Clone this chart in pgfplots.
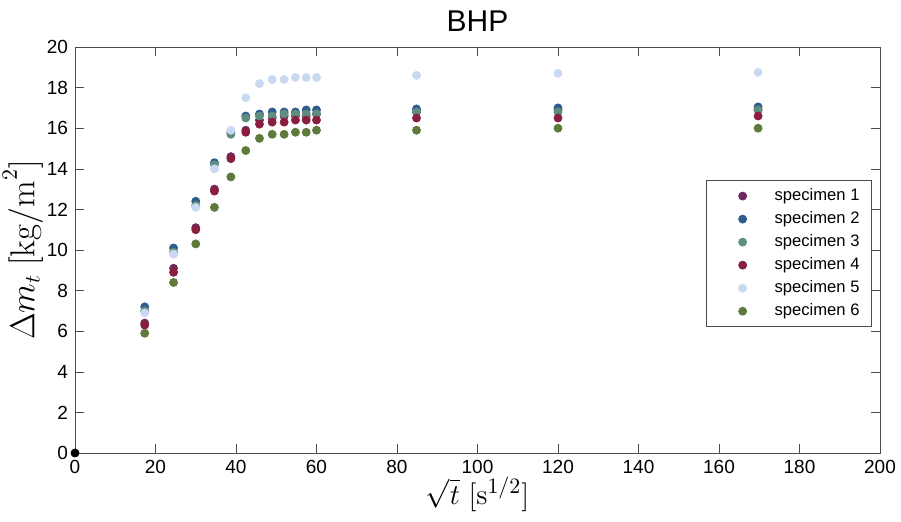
\documentclass[border=0pt]{standalone}
\usepackage{pgfplots}
\usepackage{pgfplotstable}
\pgfplotsset{compat=1.18}
\usepackage[no-math]{fontspec}
\setmainfont{Liberation Sans}
\definecolor{sone}{HTML}{6E2A5E}
\definecolor{stwo}{HTML}{2E5D8C}
\definecolor{sthree}{HTML}{5E8E80}
\definecolor{sfour}{HTML}{8A1E3E}
\definecolor{sfive}{HTML}{C9D9F2}
\definecolor{ssix}{HTML}{5E7A3A}

\pgfplotstableread{
t      s1    s2    s3    s4    s5    s6
17.32  6.4   7.2   7.0   6.3   6.9   5.9
24.49  9.1   10.1  9.9   8.9   9.8   8.4
30.00  11.1  12.4  12.2  11.0  12.1  10.3
34.64  13.0  14.3  14.2  12.9  14.0  12.1
38.73  14.6  15.8  15.7  14.5  15.9  13.6
42.43  15.9  16.6  16.5  15.8  17.5  14.9
45.83  16.4  16.7  16.6  16.2  18.2  15.5
48.99  16.5  16.8  16.6  16.3  18.4  15.7
51.96  16.6  16.8  16.7  16.3  18.4  15.7
54.77  16.6  16.8  16.7  16.4  18.5  15.8
57.45  16.6  16.9  16.7  16.4  18.5  15.8
60.00  16.7  16.9  16.7  16.4  18.5  15.9
84.85  16.8  16.95 16.8  16.5  18.6  15.9
120.00 16.9  17.0  16.8  16.5  18.7  16.0
169.71 16.9  17.05 16.9  16.6  18.75 16.0
}\massdata

\begin{document}
\begin{tikzpicture}
\path[use as bounding box] (-37.5pt,-34pt) rectangle (413pt,226.5pt);
\begin{axis}[
  scale only axis,
  width=402.5pt,height=203pt,
  xmin=0,xmax=200,ymin=0,ymax=20,
  xtick={0,20,...,200},ytick={0,2,...,20},
  tick align=inside,
  ticklabel style={font=\fontsize{9.5}{11}\selectfont},
  /pgf/number format/assume math mode=true,
  axis line style={black!70},
  tick style={black!70},
  title={BHP},
  title style={font=\fontsize{15}{18}\selectfont,yshift=-2pt},
  xlabel={$\sqrt{t}\ [\mathrm{s}^{1/2}]$},
  ylabel={$\Delta m_t\ [\mathrm{kg/m}^2]$},
  xlabel style={font=\fontsize{15.5}{18}\selectfont,yshift=5pt},
  ylabel style={font=\fontsize{16}{19}\selectfont,yshift=-5pt},
  legend style={at={(0.99,0.672)},anchor=north east,
    font=\fontsize{8.3}{10}\selectfont,draw=black!70,
    row sep=0pt,inner xsep=4pt},
  legend cell align=left,
  legend image code/.code={\path[draw=none] (0pt,0pt) -- (28pt,0pt);
    \draw[#1,only marks] plot coordinates {(14pt,0pt)};},
  every axis plot/.append style={only marks,mark=*,mark size=2pt},
]
\addplot[color=sone] table[x=t,y=s1] {\massdata};
\addplot[color=stwo] table[x=t,y=s2] {\massdata};
\addplot[color=sthree] table[x=t,y=s3] {\massdata};
\addplot[color=sfour] table[x=t,y=s4] {\massdata};
\addplot[color=sfive] table[x=t,y=s5] {\massdata};
\addplot[color=ssix] table[x=t,y=s6] {\massdata};
\addplot[color=black,forget plot] coordinates {(0,0)};
\legend{specimen 1,specimen 2,specimen 3,specimen 4,specimen 5,specimen 6}
\end{axis}
\end{tikzpicture}
\end{document}
